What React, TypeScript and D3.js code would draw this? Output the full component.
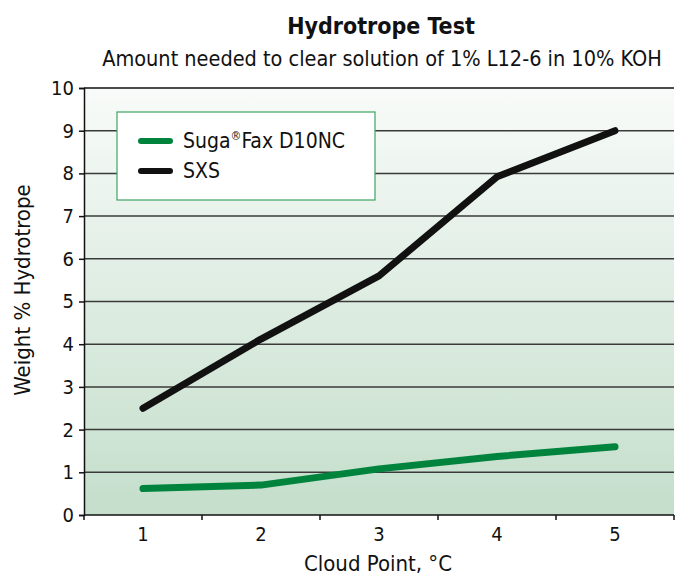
import React, { useEffect, useRef } from 'react';
import * as d3 from 'd3';

const categories = ['1', '2', '3', '4', '5'];
const sugaFax = [0.62, 0.7, 1.08, 1.37, 1.6];
const sxs = [2.5, 4.12, 5.6, 7.92, 9.0];
const yTicks = [0, 1, 2, 3, 4, 5, 6, 7, 8, 9, 10];
const seriesColors = ['#00843d', '#111111'];

const width = 675;
const height = 575;
const font = '"Liberation Sans Narrow", "DejaVu Sans Condensed", "Noto Sans", sans-serif';

export default function App() {
  const ref = useRef<SVGSVGElement>(null);

  useEffect(() => {
    const svg = d3.select(ref.current);
    svg.selectAll('*').remove();

    const left = 84, right = 674, top = 88, bottom = 515;

    const x = d3.scaleBand().domain(categories).range([left, right]);
    const y = d3.scaleLinear().domain([0, 10]).range([bottom, top]);

    const defs = svg.append('defs');
    const grad = defs.append('linearGradient')
      .attr('id', 'bg')
      .attr('x1', 0).attr('y1', 0).attr('x2', 0).attr('y2', 1);
    grad.append('stop').attr('offset', '0%').attr('stop-color', '#f8fbf9');
    grad.append('stop').attr('offset', '100%').attr('stop-color', '#c4decb');

    svg.append('rect')
      .attr('x', left).attr('y', top)
      .attr('width', right - left).attr('height', bottom - top)
      .attr('fill', 'url(#bg)');

    // gridlines
    svg.append('g')
      .selectAll('line')
      .data(yTicks.filter(d => d > 0))
      .enter()
      .append('line')
      .attr('x1', left).attr('x2', right)
      .attr('y1', d => y(d)).attr('y2', d => y(d))
      .attr('stroke', d => (d === 10 ? '#111' : '#3a3a3a'))
      .attr('stroke-width', 1.5);

    // y axis
    const yAxis = svg.append('g')
      .attr('transform', `translate(${left},0)`)
      .call(d3.axisLeft(y).tickValues(yTicks).tickSize(5).tickPadding(5));
    yAxis.select('.domain').attr('stroke', '#111').attr('stroke-width', 1.5);
    yAxis.selectAll('.tick line').attr('stroke', '#111').attr('stroke-width', 1.5);
    yAxis.selectAll('.tick text')
      .attr('font-family', font).attr('font-size', 20).attr('fill', '#111');

    // x axis
    const bounds = categories.map(c => x(c) as number).concat([right]);
    const xg = svg.append('g');
    xg.append('line')
      .attr('x1', left).attr('x2', right)
      .attr('y1', bottom).attr('y2', bottom)
      .attr('stroke', '#111').attr('stroke-width', 1.5);
    xg.selectAll('line.tk')
      .data(bounds)
      .enter()
      .append('line')
      .attr('class', 'tk')
      .attr('x1', d => d).attr('x2', d => d)
      .attr('y1', bottom).attr('y2', bottom + 5)
      .attr('stroke', '#111').attr('stroke-width', 1.5);
    xg.selectAll('text')
      .data(categories)
      .enter()
      .append('text')
      .attr('x', d => (x(d) as number) + x.bandwidth() / 2)
      .attr('y', 541)
      .attr('text-anchor', 'middle')
      .attr('font-family', font).attr('font-size', 20).attr('fill', '#111')
      .text(d => d);

    // lines
    const line = d3.line<number>()
      .x((_, i) => (x(categories[i]) as number) + x.bandwidth() / 2)
      .y(d => y(d));

    [sxs, sugaFax].forEach((data, k) => {
      svg.append('path')
        .attr('d', line(data))
        .attr('fill', 'none')
        .attr('stroke', k === 0 ? seriesColors[1] : seriesColors[0])
        .attr('stroke-width', 7)
        .attr('stroke-linecap', 'round')
        .attr('stroke-linejoin', 'round');
    });

    // legend
    const lg = svg.append('g');
    lg.append('rect')
      .attr('x', 117).attr('y', 112)
      .attr('width', 258).attr('height', 88)
      .attr('fill', '#ffffff')
      .attr('stroke', '#3fa463').attr('stroke-width', 1.2);
    const legendItems = [
      { parts: [['Suga', false], ['®', true], ['Fax D10NC', false]] },
      { parts: [['SXS', false]] },
    ];
    legendItems.forEach((item, i) => {
      const ly = 141 + i * 30;
      lg.append('line')
        .attr('x1', 141).attr('x2', 170)
        .attr('y1', ly).attr('y2', ly)
        .attr('stroke', seriesColors[i]).attr('stroke-width', 6)
        .attr('stroke-linecap', 'round');
      const t = lg.append('text')
        .attr('x', 183).attr('y', ly + 7)
        .attr('font-family', font).attr('font-size', 21).attr('fill', '#111');
      item.parts.forEach(([s, sup]) => {
        const ts = t.append('tspan').text(s as string);
        if (sup) ts.attr('font-size', 12).attr('dy', -8);
        else if (i === 0 && s !== 'Suga') ts.attr('dy', 8);
      });
    });

    // titles
    svg.append('text')
      .attr('x', 381).attr('y', 34)
      .attr('text-anchor', 'middle')
      .attr('font-family', font).attr('font-size', 23).attr('font-weight', 'bold')
      .attr('fill', '#111')
      .text('Hydrotrope Test');
    svg.append('text')
      .attr('x', 382).attr('y', 66)
      .attr('text-anchor', 'middle')
      .attr('font-family', font).attr('font-size', 21.5).attr('fill', '#111')
      .text('Amount needed to clear solution of 1% L12-6 in 10% KOH');
    svg.append('text')
      .attr('x', 378).attr('y', 571)
      .attr('text-anchor', 'middle')
      .attr('font-family', font).attr('font-size', 22).attr('fill', '#111')
      .text('Cloud Point, °C');
    svg.append('text')
      .attr('transform', 'translate(30,290) rotate(-90)')
      .attr('text-anchor', 'middle')
      .attr('font-family', font).attr('font-size', 22).attr('fill', '#111')
      .text('Weight % Hydrotrope');
  }, []);

  return (
    <svg
      ref={ref}
      width={width}
      height={height}
      style={{ position: 'absolute', left: 0, top: 0, background: '#fff' }}
    />
  );
}
